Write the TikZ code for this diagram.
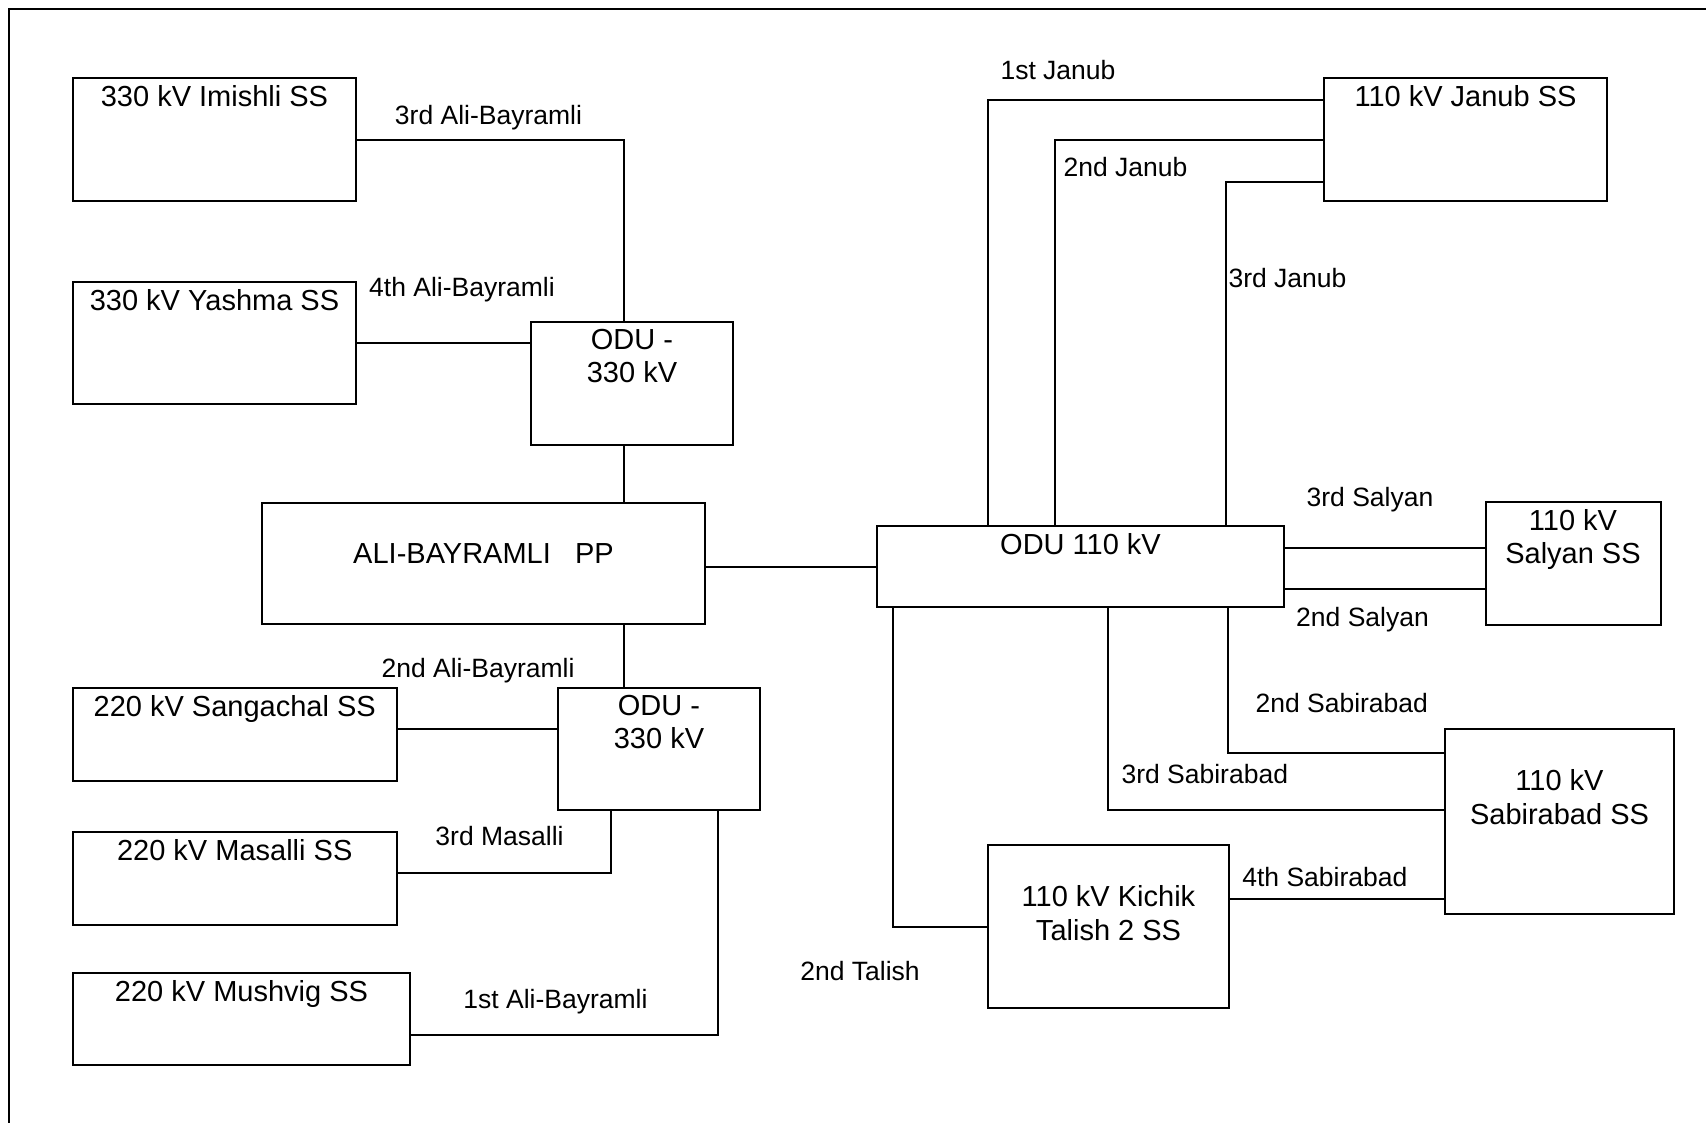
\documentclass[tikz,border=0pt]{standalone}
\usepackage{fontspec}
\setmainfont{Liberation Sans}
\usepackage{tikz}
\usetikzlibrary{positioning, calc}
\newcommand{\boxfont}{\fontsize{29}{33.5}\selectfont}
\newcommand{\lblfont}{\fontsize{26.5}{30}\selectfont}
\tikzstyle{ss} = [draw, line width=2pt, anchor=north west, inner sep=0pt]
\tikzstyle{boxtext} = [anchor=north, inner sep=0pt, align=center, font=\boxfont]
\tikzstyle{feeder} = [line width=2pt]

\begin{document}
\begin{tikzpicture}[x=1pt, y=-1pt, lbl/.style={inner sep=0pt, font=\lblfont}]
    \useasboundingbox (0,0) rectangle (1706,1123);
    \draw[feeder] (8.5,1123) |- (1706,9.5);
    \foreach \n/\x/\y/\w/\h in {imishli/72/77.5/283/122.5, yashma/72/281/283/122, odua/530/321/202/122.5, pp/261/502/443/121, sangachal/72/687/323.5/93, odub/557/687/202/122, masalli/72/831/323.5/93, mushvig/72/972/337/92, odu110/876/525/407/81, janub/1323/77.5/283/122.5, salyan/1484.5/501/175/122.5, sabirabad/1444/728/229/184.5, kichik/987/844/241/163}
        \node[ss, minimum width=\w, minimum height=\h] (\n) at (\x,\y) {};
    \node[boxtext, below=8pt of imishli.north] (imishli-t) {330 kV Imishli SS};
    \node[boxtext, below=8pt of yashma.north] (yashma-t) {330 kV Yashma SS};
    \node[boxtext, below=8pt of odua.north] (odua-t) {ODU -\\330 kV};
    \node[boxtext, below=41.5pt of pp.north] (pp-t) {ALI-BAYRAMLI\ \ \ PP};
    \node[boxtext, below=8pt of sangachal.north] (sangachal-t) {220 kV Sangachal SS};
    \node[boxtext, below=8pt of odub.north] (odub-t) {ODU -\\330 kV};
    \node[boxtext, below=8pt of masalli.north] (masalli-t) {220 kV Masalli SS};
    \node[boxtext, below=8pt of mushvig.north] (mushvig-t) {220 kV Mushvig SS};
    \node[boxtext, below=8pt of odu110.north] (odu110-t) {ODU 110 kV};
    \node[boxtext, below=8pt of janub.north] (janub-t) {110 kV Janub SS};
    \node[boxtext, below=8pt of salyan.north] (salyan-t) {110 kV\\Salyan SS};
    \node[boxtext, below=41.5pt of sabirabad.north] (sabirabad-t) {110 kV\\Sabirabad SS};
    \node[boxtext, below=41.5pt of kichik.north] (kichik-t) {110 kV Kichik\\Talish 2 SS};
    \foreach \n/\x/\y/\t in {l3ali/488.5/118/3rd Ali-Bayramli, l4ali/462/290/4th Ali-Bayramli, l2ali/478/671/2nd Ali-Bayramli, l3mas/499.5/836.5/3rd Masalli, l1ali/555.5/1002/1st Ali-Bayramli, l2tal/860/971/2nd Talish, l1jan/1058/70/1st Janub, l2jan/1125.5/167/2nd Janub, l3jan/1287.5/278.5/3rd Janub, l3sal/1370/499.5/3rd Salyan, l2sal/1362.5/619.5/2nd Salyan, l2sab/1341.75/703/2nd Sabirabad, l3sab/1204.8/773.6/3rd Sabirabad, l4sab/1324.85/877/4th Sabirabad}
        \node[lbl] (\n) at (\x,\y) {\t};
    \coordinate (bus) at (624,0);
    \draw[feeder] (imishli.east) -| (bus |- odua.north);
    \draw[feeder] (yashma.east) -- (yashma.east -| odua.west);
    \draw[feeder] (bus |- odua.south) -- (bus |- pp.north);
    \draw[feeder] (bus |- pp.south) -- (bus |- odub.north);
    \draw[feeder] ($(sangachal.east)+(0,-6)$) coordinate (sg) -- (sg -| odub.west);
    \draw[feeder] ($(masalli.east)+(0,-6)$) -| ($(odub.south west)+(53.5,0)$);
    \draw[feeder] ($(mushvig.east)+(0,16)$) -| ($(odub.south west)+(161,0)$);
    \draw[feeder] (pp.east |- odu110.west) -- (odu110.west);
    \draw[feeder] ($(odu110.north west)+(111.5,0)$) |- ($(janub.north west)+(0,22.5)$);
    \draw[feeder] ($(odu110.north west)+(178.5,0)$) |- (janub.west);
    \draw[feeder] ($(odu110.north west)+(349.5,0)$) |- ($(janub.west)+(0,42)$);
    \draw[feeder] ($(salyan.west)+(0,-15.5)$) coordinate (s3) -- (s3 -| odu110.east);
    \draw[feeder] ($(salyan.west)+(0,25.5)$) coordinate (s2) -- (s2 -| odu110.east);
    \draw[feeder] (kichik.west) -| ($(odu110.south west)+(17,0)$);
    \draw[feeder] ($(sabirabad.west)+(0,-11)$) -| ($(odu110.south west)+(232,0)$);
    \draw[feeder] ($(sabirabad.west)+(0,-68)$) -| ($(odu110.south west)+(352,0)$);
    \draw[feeder] ($(kichik.east)+(0,-27.5)$) coordinate (k4) -- (k4 -| sabirabad.west);
\end{tikzpicture}
\end{document}
